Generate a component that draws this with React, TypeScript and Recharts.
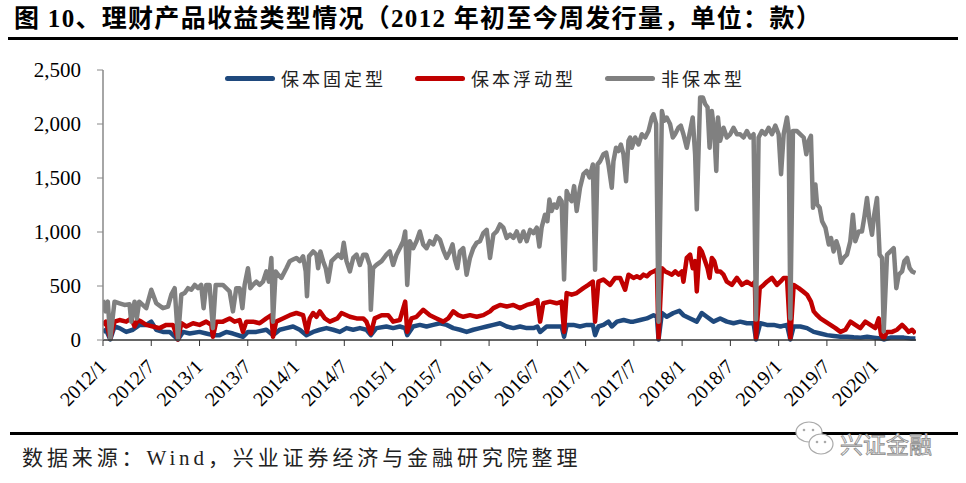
import React from 'react';
import { LineChart, Line, XAxis, YAxis } from 'recharts';

// x = week index counted from the first week of 2012
const tickWeeks = [0, 26, 52, 78, 104, 130, 156, 182, 208, 234, 260, 286, 312, 338, 364, 390, 416];
const tickLabels = ['2012/1', '2012/7', '2013/1', '2013/7', '2014/1', '2014/7', '2015/1', '2015/7', '2016/1', '2016/7', '2017/1', '2017/7', '2018/1', '2018/7', '2019/1', '2019/7', '2020/1'];
const yTicks = [0, 500, 1000, 1500, 2000, 2500];

const seriesNames = ['保本固定型', '保本浮动型', '非保本型'];
const seriesColors = ['#1F497D', '#C00000', '#808080'];

// [week, count]
const principalFixed: [number, number][] = [
  [0,75],[1.6,95],[3.9,5],[6.2,125],[8.9,110],[12.5,75],[16.1,95],[19.7,140],[23.3,140],[26,170],[28.7,95],[32.3,75],[35.9,75],[40.4,5],[43.1,75],[46.7,60],[52,75],[55.6,60],[59.2,45],[62.8,45],[66.4,75],[70,60],[75.4,30],[78.1,75],[82.6,75],[88,95],[91.6,45],[95.2,95],[98.8,110],[102.4,125],[106,95],[109.6,45],[113.2,75],[116.8,95],[120.4,110],[124,95],[127.6,75],[131.2,110],[134.8,95],[138.4,110],[141.9,95],[144.3,45],[147.3,110],[152.7,125],[156.3,110],[159.9,125],[162.8,110],[163.9,45],[167.1,125],[170.7,140],[174.3,125],[177.9,140],[181.5,155],[185.1,140],[188.7,110],[192.3,95],[195.9,75],[199.5,95],[203.1,110],[206.7,125],[210.3,140],[213.9,155],[217.5,125],[221.1,110],[224.7,125],[228.3,110],[231.9,110],[234,125],[235.5,75],[239,125],[242.6,125],[247.1,125],[248.4,30],[249.8,140],[253.4,140],[257,125],[260.6,140],[263.9,140],[265.1,45],[266.9,125],[269.6,140],[272.3,170],[274.1,125],[276.9,170],[280.5,185],[284,170],[285.8,170],[289.4,185],[293,200],[296.6,230],[298.4,215],[299.3,5],[301.1,250],[303.7,215],[307.3,250],[310.5,270],[312.7,230],[316.3,200],[319.9,170],[322.6,250],[325.3,215],[328.9,170],[332.5,200],[336.1,170],[339.7,155],[343.3,170],[346.9,155],[350.5,155],[351.8,5],[354.1,155],[357.7,140],[361.3,140],[365,125],[368.5,140],[370.3,5],[372.1,125],[375.7,125],[379.3,110],[382.9,75],[386.5,60],[390.1,45],[393.7,37],[397.3,30],[400.9,30],[404.5,25],[408.1,22],[411.7,30],[415.3,22],[418.9,15],[420.6,5],[424.2,22],[427.8,22],[431.4,22],[435,15],[437.7,15]
];

const principalFloating: [number, number][] = [
  [0,140],[1.6,170],[3.9,15],[6.2,170],[8.9,185],[12.5,170],[15.2,200],[17,125],[18.8,185],[20.6,170],[23.3,140],[26.9,125],[30.4,110],[34.1,140],[37.7,140],[40.4,5],[42.2,155],[44.9,125],[48.5,155],[52,140],[55.6,170],[58.3,140],[59.2,30],[61,170],[64.6,170],[68.2,200],[70.9,170],[73.6,185],[75.4,75],[77.2,170],[80.8,170],[84.4,155],[88,200],[90.7,230],[91.6,30],[93.3,170],[96.9,200],[100.6,230],[104.2,250],[107.8,230],[109.9,75],[111.4,200],[113.2,250],[115,215],[116.8,265],[119.5,200],[122.2,170],[126.3,200],[128.5,250],[133,215],[136.6,200],[140.2,200],[141.9,170],[144.3,60],[146.4,200],[150.1,230],[153.6,230],[156.3,170],[159.9,185],[162.8,355],[163.9,75],[166.2,200],[168.9,215],[172.5,280],[176.1,230],[179.7,200],[183.3,170],[186,200],[188.7,265],[191.4,230],[194.1,215],[197.7,230],[201.3,215],[204.9,230],[208.5,265],[210.3,295],[213.9,325],[217.5,310],[221.1,325],[224.7,295],[228.3,325],[231.9,340],[234,370],[235.5,170],[237.2,340],[240.8,355],[244.4,340],[247.1,355],[248.4,75],[249.8,435],[252.5,420],[255.2,435],[258.8,480],[261.5,510],[263.9,540],[265.1,170],[266.9,540],[269.6,560],[273.2,510],[275.9,575],[278.6,575],[281.3,465],[283.1,605],[285.8,575],[287.6,590],[289.4,575],[291.2,605],[293,590],[294.8,620],[296.6,635],[298.4,650],[299.3,15],[301.1,665],[302.9,635],[304.7,620],[306.5,605],[308.3,635],[310.1,605],[311.9,635],[312.7,540],[314.5,760],[316.3,790],[317.7,665],[319,730],[319.9,450],[321.4,850],[322.6,820],[324.4,730],[325.7,665],[326.8,575],[328,760],[329.3,730],[330.7,635],[332.5,635],[334.3,605],[336.1,540],[338.8,510],[341.5,575],[344.2,510],[346.9,540],[349.6,510],[351.2,540],[351.8,15],[353.8,480],[355.9,510],[357.7,540],[360.4,575],[363.1,510],[364.9,540],[366.7,575],[368.5,575],[370.3,15],[372.1,510],[374.8,480],[377.1,450],[379.3,420],[381.4,355],[382.9,265],[384.7,230],[386.5,200],[389.2,170],[391.9,140],[394.6,110],[397.3,75],[400,95],[402.7,170],[405.3,140],[408,110],[410.7,170],[413.4,140],[416.1,110],[417.9,200],[419.2,45],[420.6,15],[422.4,75],[425.1,75],[427.8,95],[430.5,140],[432.3,110],[434.1,75],[435.9,95],[437.7,60]
];

const nonPrincipal: [number, number][] = [
  [0,370],[1.3,265],[2.6,355],[3.9,10],[6.2,355],[8.9,340],[11.6,325],[14.3,330],[15.2,170],[17,355],[18.2,200],[19.5,355],[23.3,295],[26,465],[28.7,340],[32.3,295],[35,310],[36.8,420],[38.6,480],[40.4,10],[42.2,420],[44,435],[45.8,480],[47.6,465],[49.4,510],[51.2,480],[52.9,510],[54.2,295],[55.6,510],[57.4,510],[59.2,110],[60.7,510],[62.8,510],[64.6,510],[66.4,480],[68.2,450],[70,265],[71.8,480],[73.6,480],[75.1,295],[76.3,510],[78.1,665],[79.4,480],[80.8,510],[82.6,540],[84.4,510],[86.2,540],[88,635],[89.4,540],[90.7,760],[91.6,170],[93,635],[94.3,605],[96.1,575],[98.8,665],[100.6,730],[102.4,745],[104.2,760],[106,730],[107.8,775],[109.2,635],[109.9,405],[111,775],[113.2,820],[115,790],[115.9,665],[117.1,820],[118.6,730],[120,665],[121.3,540],[123.1,730],[124.9,760],[126.7,790],[128.5,760],[129.7,900],[131.2,730],[133,635],[134.8,760],[136.6,790],[138.4,695],[140.2,790],[141.9,790],[143.7,695],[144.3,280],[145.5,665],[147.3,695],[150.1,730],[152.7,790],[154.5,820],[156.3,695],[158.1,790],[159.9,850],[161.7,915],[162.8,1005],[163.9,510],[165.3,915],[167.1,850],[168.9,915],[170.7,1005],[172.5,885],[174.3,850],[176.1,915],[177.9,885],[179.7,960],[181.5,930],[183.3,835],[185.1,760],[186.9,820],[188.3,885],[189.6,745],[190.9,665],[192.3,820],[194.1,850],[195.9,605],[197.7,760],[199.5,850],[201.3,900],[203.1,915],[204.9,990],[206.7,1020],[208.5,760],[210.3,975],[212.1,1005],[213.9,1070],[215.7,1040],[217.5,945],[219.3,975],[221.1,945],[222.9,1005],[224.7,915],[226.5,1005],[228.3,915],[230.1,1020],[231.9,990],[233.7,1040],[235.1,865],[236.3,1040],[238.1,1160],[239.4,1100],[240.5,1300],[241.7,1195],[243,1255],[244.4,1225],[245.9,1315],[247.1,1285],[248.4,560],[249.8,1380],[251.3,1315],[252.5,1285],[253.8,1425],[255.2,1195],[257,1410],[258.8,1535],[260.6,1565],[262.1,1505],[263.9,1625],[265.1,650],[266.4,1625],[267.8,1655],[269.6,1720],[271.1,1735],[272.3,1625],[274.1,1410],[275,1655],[276.4,1780],[277.7,1750],[279,1810],[280.4,1720],[281.8,1470],[283.1,1845],[284,1875],[284.9,1780],[286.7,1875],[288.5,1810],[290.3,1905],[292.1,1875],[293.9,1935],[295.7,2060],[296.6,2090],[298,2000],[299.3,170],[301.1,2120],[302.3,2030],[303.7,2060],[305.5,2000],[307,1875],[308.2,1905],[310,1965],[311.3,1985],[312.7,1905],[314.5,1780],[316.3,1935],[317.7,2060],[319,1720],[319.9,1210],[320.8,1720],[321.7,2245],[323.2,2245],[324.4,2185],[325.7,2155],[326.8,1780],[328,2120],[329.3,1935],[330.4,1565],[331.3,2060],[332.5,1845],[334.3,1965],[336.1,1875],[337.9,1905],[339.7,1965],[341.5,1905],[343.3,1905],[345.1,1875],[346.9,1935],[348.7,1875],[350.5,1905],[351.8,190],[353.2,1875],[355,1935],[356.8,1905],[358.6,1965],[360.4,1905],[362.2,1985],[364,1905],[365.3,1535],[366.7,1905],[368.5,2060],[369.4,1935],[370.3,200],[371.7,1935],[373.9,1935],[375.7,1905],[377.5,1875],[378.9,1720],[380.2,1845],[381.4,1890],[382.5,1225],[383.8,1440],[384.7,1255],[386.1,1225],[387.4,1100],[389.2,1040],[391,885],[392.2,945],[393.6,820],[395.1,915],[396.3,850],[397.6,715],[399,760],[400.8,790],[402.6,915],[404,1160],[405.3,915],[407.1,1005],[408.9,1005],[410.1,1130],[411.6,1315],[413,1100],[414.3,975],[415.5,1160],[417,1315],[418.4,790],[419.7,760],[420.6,80],[422.4,790],[424.2,820],[426,850],[427.4,480],[428.7,605],[430.5,635],[431.7,730],[433.2,760],[434.6,665],[435.9,635],[437.7,620]
];

const toRows = (pairs: [number, number][]) => pairs.map(([w, v]) => ({ w, v }));
const seriesData = [toRows(principalFixed), toRows(principalFloating), toRows(nonPrincipal)];

const SERIF = '"Liberation Serif", "Times New Roman", "Noto Sans CJK SC", serif';

const XTick = (props: any) => {
  const { x, y, payload } = props;
  const idx = tickWeeks.indexOf(payload.value);
  const label = idx >= 0 ? tickLabels[idx] : '';
  const ax = x + 4.5;
  const ay = y + 20;
  return (
    <text x={ax} y={ay} textAnchor="end" transform={`rotate(-45 ${ax} ${ay})`}
      fontFamily={SERIF} fontSize={20} fill="#000">{label}</text>
  );
};

export default function App() {
  return (
    <div style={{ position: 'absolute', left: 0, top: 0, width: 966, height: 483, background: '#fff', overflow: 'hidden' }}>
      <div style={{ position: 'absolute', left: 14, top: 3, fontFamily: SERIF, fontWeight: 'bold', fontSize: 25, letterSpacing: 1.3, color: '#000', whiteSpace: 'nowrap', lineHeight: '32px' }}>
        图 10、理财产品收益类型情况（2012 年初至今周发行量，单位：款）
      </div>
      <div style={{ position: 'absolute', left: 8, top: 37, width: 950, height: 3, background: '#000' }} />

      <div style={{ position: 'absolute', left: 0, top: 0 }}>
        <LineChart width={966} height={483} margin={{ top: 70, right: 50, bottom: 0, left: 0 }}>
          <XAxis type="number" dataKey="w" domain={[0, 438]} ticks={tickWeeks} interval={0} height={143}
            tick={<XTick />} tickSize={6} tickMargin={2} allowDataOverflow
            stroke="#333" axisLine={{ stroke: '#333', strokeWidth: 1.5 }} tickLine={{ stroke: '#333' }} />
          <YAxis type="number" domain={[0, 2500]} ticks={yTicks} width={103} interval={0}
            tickSize={6} tickMargin={16}
            tickFormatter={(v: number) => v.toLocaleString('en-US')}
            tick={{ fontFamily: SERIF, fontSize: 21, fill: '#000' }}
            axisLine={{ stroke: '#888', strokeWidth: 1.5 }} tickLine={{ stroke: '#888' }} />
          {seriesData.map((d, i) => (
            <Line key={seriesNames[i]} name={seriesNames[i]} data={d} dataKey="v" type="linear"
              stroke={seriesColors[i]} strokeWidth={4.5} dot={false} activeDot={false}
              strokeLinejoin="round" isAnimationActive={false} />
          ))}
        </LineChart>
      </div>

      <div style={{ position: 'absolute', left: 225, top: 66, height: 24, display: 'flex', alignItems: 'center' }}>
        {seriesNames.map((n, i) => (
          <div key={n} style={{ display: 'flex', alignItems: 'center', marginRight: 29 }}>
            <div style={{ width: 50, height: 5, borderRadius: 3, background: seriesColors[i] }} />
            <span style={{ marginLeft: 6, fontFamily: '"Noto Sans CJK SC", sans-serif', fontSize: 18, letterSpacing: 3, color: '#222', lineHeight: '24px' }}>{n}</span>
          </div>
        ))}
      </div>

      <div style={{ position: 'absolute', left: 10, top: 432, width: 948, height: 2.5, background: '#000' }} />
      <div style={{ position: 'absolute', left: 22, top: 443, fontFamily: SERIF, fontSize: 21, letterSpacing: 3.9, color: '#222', whiteSpace: 'nowrap', lineHeight: '30px' }}>
        数据来源：Wind，兴业证券经济与金融研究院整理
      </div>

      <svg style={{ position: 'absolute', left: 785, top: 415 }} width={170} height={50}>
        <ellipse cx={24} cy={17} rx={13} ry={10} fill="#fff" stroke="#aaa" strokeWidth={1.2} />
        <circle cx={19} cy={15} r={1.3} fill="#aaa" />
        <circle cx={28} cy={15} r={1.3} fill="#aaa" />
        <ellipse cx={36} cy={29} rx={12} ry={10} fill="#fff" stroke="#aaa" strokeWidth={1.2} />
        <circle cx={32} cy={27} r={1.3} fill="#aaa" />
        <circle cx={40} cy={27} r={1.3} fill="#aaa" />
        <text x={55} y={38} fontFamily='"Noto Sans CJK SC", sans-serif' fontSize={23} fill="#f2f2f2" stroke="#8a8a8a" strokeWidth={0.8}>兴证金融</text>
      </svg>
    </div>
  );
}
